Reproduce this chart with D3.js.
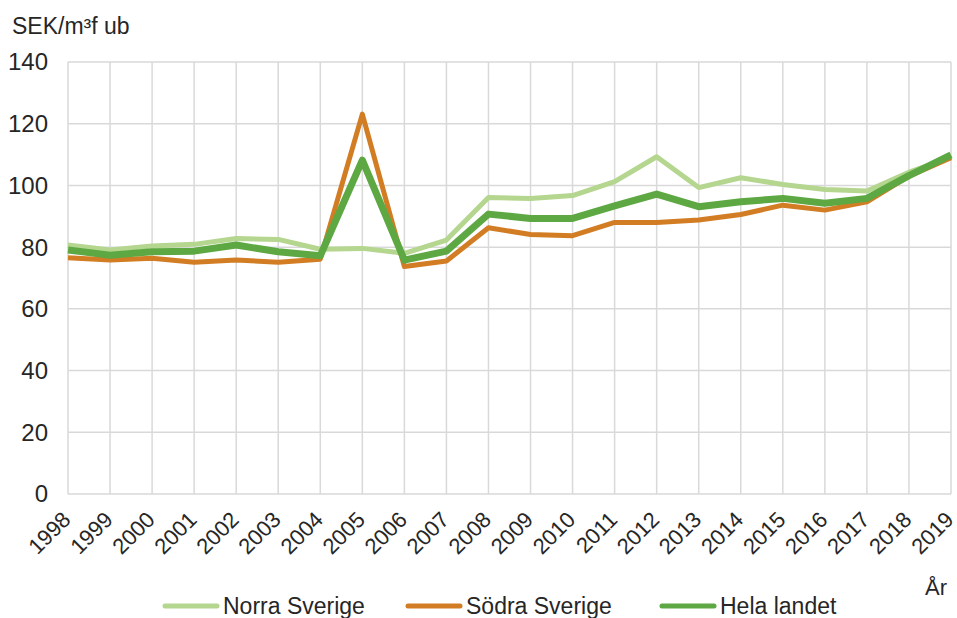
<!DOCTYPE html>
<html>
<head>
<meta charset="utf-8">
<script src="https://cdn.jsdelivr.net/npm/d3@7"></script>
<style>
  html, body { margin: 0; padding: 0; background: #fff; }
  svg { display: block; }
  text { font-family: "Liberation Sans", Arial, sans-serif; fill: #262626; }
</style>
</head>
<body>
<div id="chart"></div>
<script>
(function () {
  'use strict';

  // ── Data ──
  var years = [1998, 1999, 2000, 2001, 2002, 2003, 2004, 2005, 2006, 2007, 2008,
    2009, 2010, 2011, 2012, 2013, 2014, 2015, 2016, 2017, 2018, 2019];
  var norra = [80.7, 79.1, 80.4, 80.9, 82.8, 82.5, 79.3, 79.6, 78.0, 82.3, 96.1,
    95.8, 96.7, 101.2, 109.3, 99.3, 102.5, 100.3, 98.7, 98.2, 104.3, 109.0];
  var sodra = [76.6, 75.8, 76.4, 75.1, 75.8, 75.1, 76.1, 123.1, 73.7, 75.5, 86.3,
    84.1, 83.7, 88.0, 88.0, 88.8, 90.6, 93.6, 92.0, 94.7, 103.0, 109.0];
  var hela = [79.1, 77.4, 78.5, 78.7, 80.7, 78.5, 77.2, 108.2, 75.8, 78.7, 90.7,
    89.3, 89.3, 93.4, 97.2, 93.1, 94.7, 95.8, 94.2, 95.8, 103.2, 109.9];
  var yTicks = [0, 20, 40, 60, 80, 100, 120, 140];

  var series = [
    { name: 'Norra Sverige', values: norra, color: '#b4d68f', width: 5 },
    { name: 'Södra Sverige', values: sodra, color: '#d27d24', width: 5 },
    { name: 'Hela landet', values: hela, color: '#5da843', width: 7 }
  ];

  // ── Layout ──
  var WIDTH = 957, HEIGHT = 618;
  var PLOT = { left: 68, right: 951, top: 62, bottom: 494 };
  var GRID_COLOR = '#d9d9d9';

  var svg = d3.select('#chart').append('svg')
    .attr('width', WIDTH)
    .attr('height', HEIGHT);

  var x = d3.scaleLinear()
    .domain([years[0], years[years.length - 1]])
    .range([PLOT.left, PLOT.right]);

  var y = d3.scaleLinear()
    .domain([0, 140])
    .range([PLOT.bottom, PLOT.top]);

  // ── Grid ──
  var grid = svg.append('g')
    .attr('stroke', GRID_COLOR)
    .attr('stroke-width', 1.5);

  grid.selectAll('.hgrid')
    .data(yTicks)
    .join('line')
    .attr('x1', PLOT.left).attr('x2', PLOT.right)
    .attr('y1', function (d) { return y(d); })
    .attr('y2', function (d) { return y(d); });

  grid.selectAll('.vgrid')
    .data(years)
    .join('line')
    .attr('x1', function (d) { return x(d); })
    .attr('x2', function (d) { return x(d); })
    .attr('y1', PLOT.top).attr('y2', PLOT.bottom);

  // ── Y axis labels ──
  svg.append('g').selectAll('text')
    .data(yTicks)
    .join('text')
    .attr('x', 48)
    .attr('y', function (d) { return y(d); })
    .attr('dy', '0.35em')
    .attr('text-anchor', 'end')
    .attr('font-size', '24px')
    .text(function (d) { return d; });

  svg.append('text')
    .attr('x', 12)
    .attr('y', 34)
    .attr('font-size', '23px')
    .text('SEK/m³f ub');

  // ── X axis labels ──
  svg.append('g').selectAll('text')
    .data(years)
    .join('text')
    .attr('text-anchor', 'end')
    .attr('font-size', '22px')
    .attr('transform', function (d) {
      return 'translate(' + (x(d) + 4) + ',' + 521 + ') rotate(-45)';
    })
    .text(function (d) { return d; });

  svg.append('text')
    .attr('x', 947)
    .attr('y', 595)
    .attr('text-anchor', 'end')
    .attr('font-size', '22px')
    .text('År');

  // ── Lines ──
  var line = d3.line()
    .x(function (d, i) { return x(years[i]); })
    .y(function (d) { return y(d); });

  svg.append('g').selectAll('path')
    .data(series)
    .join('path')
    .attr('fill', 'none')
    .attr('stroke', function (d) { return d.color; })
    .attr('stroke-width', function (d) { return d.width; })
    .attr('stroke-linejoin', 'round')
    .attr('d', function (d) { return line(d.values); });

  // ── Legend ──
  var legendX = [165, 408, 662];
  var legend = svg.append('g');
  var items = legend.selectAll('g')
    .data(series)
    .join('g')
    .attr('transform', function (d, i) { return 'translate(' + legendX[i] + ',606)'; });

  items.append('line')
    .attr('x1', 0).attr('x2', 52)
    .attr('stroke', function (d) { return d.color; })
    .attr('stroke-width', 5)
    .attr('stroke-linecap', 'round');

  items.append('text')
    .attr('x', 58)
    .attr('dy', '0.35em')
    .attr('font-size', '23px')
    .text(function (d) { return d.name; });
})();
</script>
</body>
</html>
